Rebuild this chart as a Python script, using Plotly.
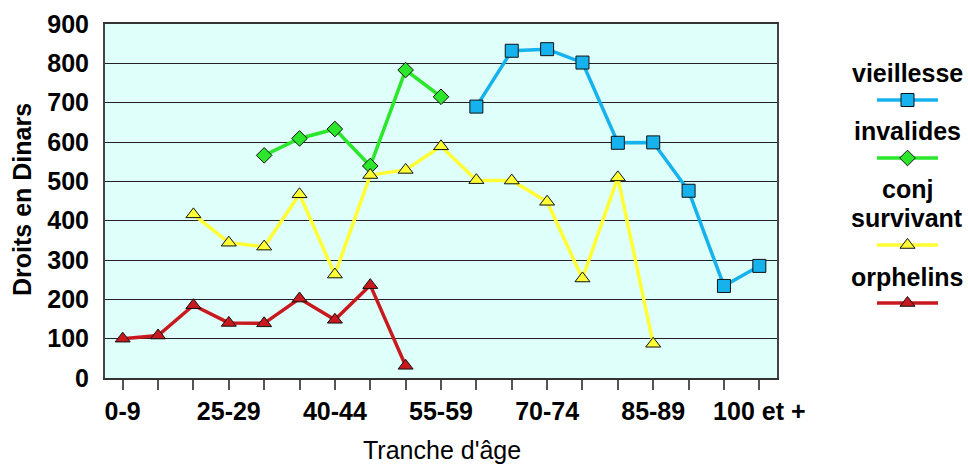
import plotly.graph_objects as go

categories = ["0-9", "10-19", "20-24", "25-29", "30-34", "35-39", "40-44", "45-49",
              "50-54", "55-59", "60-64", "65-69", "70-74", "75-79", "80-84", "85-89",
              "90-94", "95-99", "100 et +"]
tick_labels = [c if i % 3 == 0 else "" for i, c in enumerate(categories)]

vieillesse = [None] * 10 + [690, 832, 836, 802, 598, 599, 476, 234, 285]
invalides = [None] * 4 + [566, 609, 633, 539, 783, 715] + [None] * 9
conj_survivant = [None] * 2 + [416, 344, 334, 467, 263, 516, 529, 589, 503, 502, 448, 253, 510, 87] + [None] * 3
orphelins = [100, 108, 185, 140, 139, 202, 148, 236, 31] + [None] * 10

series = [
    ("vieillesse", vieillesse, "#16B2EE", "square", 13),
    ("invalides", invalides, "#2BE62B", "diamond", 12),
    ("conj survivant", conj_survivant, "#FFFF33", "triangle-up", 13),
    ("orphelins", orphelins, "#C8191E", "triangle-up", 13),
]

FONT = "Arial, Liberation Sans, sans-serif"
BG = "#DFFFFA"
W, H = 968, 464
px0, px1, py0, py1 = 105, 777, 24, 378

fig = go.Figure()
for name, vals, color, sym, size in series:
    fig.add_trace(go.Scatter(
        x=categories, y=vals, mode="lines+markers", name=name,
        line=dict(color=color, width=3.5),
        marker=dict(symbol=sym, size=size, color=color, line=dict(color="#111", width=1)),
        connectgaps=False, showlegend=False, xaxis="x", yaxis="y",
    ))

# custom legend drawn on an overlay axis (0..1 units)
leg_line_y = [1 - 100 / H, 1 - 158 / H, 1 - 245 / H, 1 - 303 / H]
lx0, lx1 = 877 / W, 938 / W
lxm = (lx0 + lx1) / 2
for (name, vals, color, sym, size), ly in zip(series, leg_line_y):
    fig.add_trace(go.Scatter(x=[lx0, lx1], y=[ly, ly], mode="lines",
                             line=dict(color=color, width=3.5), showlegend=False,
                             hoverinfo="skip", xaxis="x2", yaxis="y2"))
    fig.add_trace(go.Scatter(x=[lxm], y=[ly], mode="markers",
                             marker=dict(symbol=sym, size=size, color=color,
                                         line=dict(color="#111", width=1)),
                             showlegend=False, hoverinfo="skip", xaxis="x2", yaxis="y2"))

leg_texts = [("vieillesse", 73), ("invalides", 131), ("conj", 189), ("survivant", 218), ("orphelins", 277)]
annotations = []
for t, yy in leg_texts:
    annotations.append(dict(text="<b>%s</b>" % t, x=907 / W, y=1 - yy / H, xref="paper", yref="paper",
                            showarrow=False, xanchor="center", yanchor="middle",
                            font=dict(family=FONT, size=25, color="black")))
annotations.append(dict(text="<b>Droits en Dinars</b>", x=22 / W, y=1 - 200 / H, xref="paper", yref="paper",
                        textangle=-90, showarrow=False, xanchor="center", yanchor="middle",
                        font=dict(family=FONT, size=25, color="black")))
annotations.append(dict(text="Tranche d'âge", x=442 / W, y=1 - 450 / H, xref="paper", yref="paper",
                        showarrow=False, xanchor="center", yanchor="middle",
                        font=dict(family=FONT, size=25, color="black")))

fig.add_shape(type="rect", xref="x domain", yref="y domain", x0=0, x1=1, y0=0, y1=1,
              fillcolor=BG, line_width=0, layer="below")

fig.update_layout(
    width=W, height=H,
    margin=dict(l=0, r=0, t=0, b=0, autoexpand=False),
    paper_bgcolor="white", plot_bgcolor="rgba(0,0,0,0)",
    font=dict(family=FONT, size=25, color="black"),
    showlegend=False,
    annotations=annotations,
    xaxis=dict(
        domain=[px0 / W, px1 / W], type="category", categoryorder="array", categoryarray=categories,
        range=[-0.5, len(categories) - 0.5],
        tickmode="array", tickvals=categories, ticktext=tick_labels,
        ticks="outside", ticklen=10, tickwidth=1.5, tickcolor="#555",
        tickfont=dict(family=FONT, size=25, color="black", weight="bold"),
        showgrid=False, showline=True, linecolor="#333", linewidth=2, mirror=True,
        zeroline=False, anchor="y", fixedrange=True, automargin=False,
    ),
    yaxis=dict(
        domain=[1 - py1 / H, 1 - py0 / H], range=[0, 900], dtick=100, tick0=0,
        ticks="outside", ticklen=9, tickcolor="rgba(0,0,0,0)",
        tickfont=dict(family=FONT, size=25, color="black", weight="bold"),
        showgrid=True, gridcolor="#222", gridwidth=1,
        showline=True, linecolor="#444", linewidth=2, mirror=True,
        zeroline=False, anchor="x", fixedrange=True, automargin=False,
    ),
    xaxis2=dict(domain=[0, 1], range=[0, 1], visible=False, anchor="y2", fixedrange=True, automargin=False),
    yaxis2=dict(domain=[0, 1], range=[0, 1], visible=False, anchor="x2", fixedrange=True, automargin=False),
)

fig.write_html("out.html", config={"displayModeBar": False},
               post_script="document.body.style.margin='0';document.body.style.overflow='hidden';")
